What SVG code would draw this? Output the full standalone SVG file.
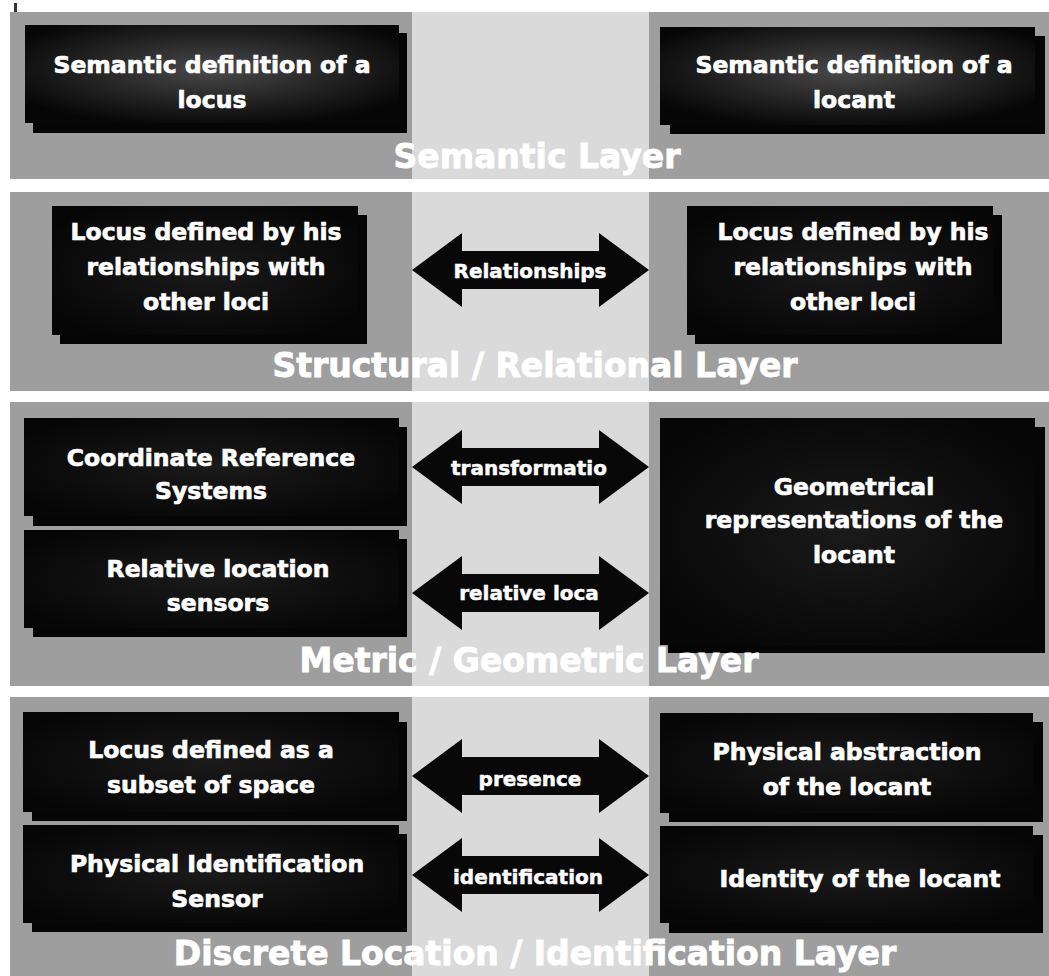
<svg xmlns="http://www.w3.org/2000/svg" width="1049" height="976" viewBox="0 0 1049 976">
<defs>
  <style>
    .band { fill: #9e9e9e; }
    .col { fill: #dadada; }
    .shadow { fill: #050505; }
    .front { fill: url(#boxg); }
    .front1 { fill: url(#boxg1); }
    .bt { font-family: "DejaVu Sans", Verdana, sans-serif; font-weight: bold; font-size: 23.5px; fill: #ffffff; stroke: #ffffff; stroke-width: 0.7px; text-anchor: middle; }
    .at { font-family: "DejaVu Sans", Verdana, sans-serif; font-weight: bold; font-size: 20px; fill: #ffffff; stroke: #ffffff; stroke-width: 0.5px; text-anchor: middle; }
    .lt { font-family: "DejaVu Sans", Verdana, sans-serif; font-weight: bold; font-size: 33px; fill: #ffffff; stroke: #ffffff; stroke-width: 0.9px; text-anchor: middle; }
    .arrow { fill: #080808; }
  </style>
  <radialGradient id="boxg" cx="0.5" cy="0.5" r="0.6">
    <stop offset="0" stop-color="#1a1a1a"/>
    <stop offset="1" stop-color="#060606"/>
  </radialGradient>
  <radialGradient id="boxg1" cx="0.5" cy="0.45" r="0.6">
    <stop offset="0" stop-color="#4a4a4a"/>
    <stop offset="0.6" stop-color="#202020"/>
    <stop offset="1" stop-color="#060606"/>
  </radialGradient>
  <path id="dblarrow" d="M412,0 L462,-37 L462,-19 L599,-19 L599,-37 L649,0 L599,37 L599,19 L462,19 L462,37 Z"/>
</defs>
<rect x="0" y="0" width="1049" height="976" fill="#ffffff"/>
<rect x="14" y="3" width="3" height="9" fill="#333333"/>

<g id="bands">
  <rect class="band" x="10" y="12" width="1039" height="167"/>
  <rect class="band" x="10" y="192" width="1039" height="199"/>
  <rect class="band" x="10" y="402" width="1039" height="284"/>
  <rect class="band" x="10" y="697" width="1039" height="279"/>
  <rect class="col" x="412" y="12" width="237" height="167"/>
  <rect class="col" x="412" y="192" width="237" height="199"/>
  <rect class="col" x="412" y="402" width="237" height="284"/>
  <rect class="col" x="412" y="697" width="237" height="279"/>
</g>

<g id="semantic-locus">
  <rect class="shadow" x="33" y="33" width="374" height="100"/>
  <rect class="front1" x="25" y="25" width="374" height="98"/>
  <text class="bt" x="212" y="73">Semantic definition of a</text>
  <text class="bt" x="212" y="108">locus</text>
</g>
<g id="semantic-locant">
  <rect class="shadow" x="670" y="36" width="375" height="98"/>
  <rect class="front1" x="660" y="27" width="375" height="98"/>
  <text class="bt" x="854" y="73">Semantic definition of a</text>
  <text class="bt" x="854" y="108">locant</text>
</g>

<g id="structural-locus">
  <rect class="shadow" x="60" y="215" width="307" height="129"/>
  <rect class="front" x="52" y="206" width="306" height="129"/>
  <text class="bt" x="206" y="240">Locus defined by his</text>
  <text class="bt" x="206" y="275">relationships with</text>
  <text class="bt" x="206" y="310">other loci</text>
</g>
<g id="structural-locant">
  <rect class="shadow" x="695" y="215" width="307" height="129"/>
  <rect class="front" x="687" y="206" width="306" height="129"/>
  <text class="bt" x="853" y="240">Locus defined by his</text>
  <text class="bt" x="853" y="275">relationships with</text>
  <text class="bt" x="853" y="310">other loci</text>
</g>

<g id="crs">
  <rect class="shadow" x="33" y="427" width="374" height="99"/>
  <rect class="front" x="24" y="418" width="375" height="98"/>
  <text class="bt" x="211" y="466">Coordinate Reference</text>
  <text class="bt" x="211" y="499">Systems</text>
</g>
<g id="relative-sensors">
  <rect class="shadow" x="33" y="539" width="374" height="98"/>
  <rect class="front" x="24" y="530" width="375" height="98"/>
  <text class="bt" x="218" y="577">Relative location</text>
  <text class="bt" x="218" y="611">sensors</text>
</g>
<g id="geometrical">
  <rect class="shadow" x="668" y="427" width="377" height="226"/>
  <rect class="front" x="660" y="418" width="375" height="227"/>
  <text class="bt" x="854" y="495">Geometrical</text>
  <text class="bt" x="854" y="528">representations of the</text>
  <text class="bt" x="854" y="563">locant</text>
</g>

<g id="subset-space">
  <rect class="shadow" x="32" y="722" width="375" height="99"/>
  <rect class="front" x="23" y="712" width="376" height="100"/>
  <text class="bt" x="211" y="758">Locus defined as a</text>
  <text class="bt" x="211" y="793">subset of space</text>
</g>
<g id="id-sensor">
  <rect class="shadow" x="32" y="834" width="375" height="98"/>
  <rect class="front" x="23" y="825" width="376" height="98"/>
  <text class="bt" x="217" y="872">Physical Identification</text>
  <text class="bt" x="217" y="907">Sensor</text>
</g>
<g id="physical-abstraction">
  <rect class="shadow" x="669" y="722" width="374" height="100"/>
  <rect class="front" x="660" y="713" width="373" height="100"/>
  <text class="bt" x="847" y="760">Physical abstraction</text>
  <text class="bt" x="847" y="795">of the locant</text>
</g>
<g id="identity">
  <rect class="shadow" x="669" y="835" width="374" height="98"/>
  <rect class="front" x="660" y="826" width="373" height="97"/>
  <text class="bt" x="860" y="887">Identity of the locant</text>
</g>

<g id="connectors">
  <use href="#dblarrow" class="arrow" transform="translate(0,270)"/>
  <text class="at" x="530" y="278" font-size="19">Relationships</text>
  <use href="#dblarrow" class="arrow" transform="translate(0,467)"/>
  <text class="at" x="529" y="475">transformatio</text>
  <use href="#dblarrow" class="arrow" transform="translate(0,593)"/>
  <text class="at" x="529" y="600">relative loca</text>
  <use href="#dblarrow" class="arrow" transform="translate(0,776)"/>
  <text class="at" x="530" y="786">presence</text>
  <use href="#dblarrow" class="arrow" transform="translate(0,875)"/>
  <text class="at" x="528" y="884">identification</text>
</g>

<g id="layer-labels">
  <text class="lt" x="537" y="168">Semantic Layer</text>
  <text class="lt" x="535" y="377">Structural / Relational Layer</text>
  <text class="lt" x="529" y="672">Metric / Geometric Layer</text>
  <text class="lt" x="535" y="965">Discrete Location / Identification Layer</text>
</g>
</svg>
